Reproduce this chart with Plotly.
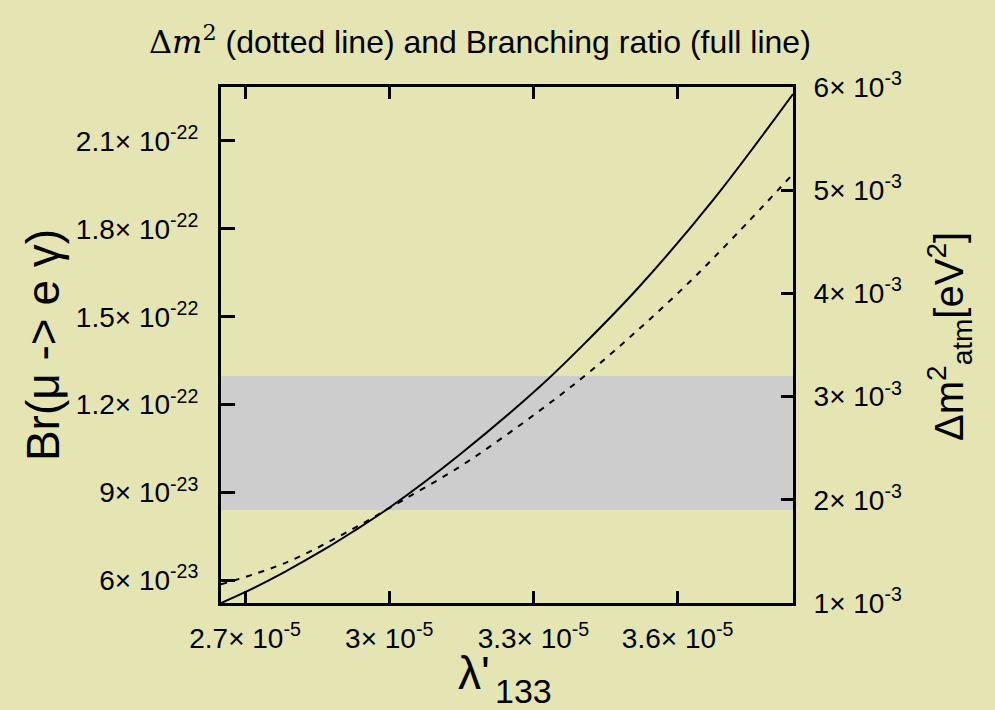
import plotly.graph_objects as go

# lambda'_133 coupling values (x) and the branching ratio Br(mu -> e gamma)
lam_br = [2.65e-5, 2.70e-5, 2.78e-5, 2.863e-5, 2.925e-5, 3.00e-5, 3.147e-5,
          3.313e-5, 3.403e-5, 3.521e-5, 3.674e-5, 3.84e-5]
br = [5.23e-23, 5.60e-23, 6.27e-23, 7.04e-23, 7.67e-23, 8.48e-23, 1.03e-22,
      1.261e-22, 1.403e-22, 1.604e-22, 1.899e-22, 2.26e-22]

# lambda'_133 values and the atmospheric mass splitting Delta m^2
lam_dm = [2.65e-5, 2.7867e-5, 2.925e-5, 3.029e-5, 3.147e-5, 3.2405e-5,
          3.3305e-5, 3.4173e-5, 3.5213e-5, 3.6252e-5, 3.7222e-5, 3.84e-5]
dm2 = [1.18e-3, 1.394e-3, 1.72e-3, 1.998e-3, 2.321e-3, 2.618e-3,
       2.925e-3, 3.241e-3, 3.662e-3, 4.113e-3, 4.573e-3, 5.157e-3]

# allowed Delta m^2_atm band
band_dm2 = [1.9e-3, 3.2e-3]

# tick positions and labels
x_ticks = [2.7e-5, 3.0e-5, 3.3e-5, 3.6e-5]
x_ticktext = ["2.7× 10<sup>-5</sup>", "3× 10<sup>-5</sup>",
              "3.3× 10<sup>-5</sup>", "3.6× 10<sup>-5</sup>"]
y_ticks = [6e-23, 9e-23, 1.2e-22, 1.5e-22, 1.8e-22, 2.1e-22]
y_ticktext = ["6× 10<sup>-23</sup>", "9× 10<sup>-23</sup>",
              "1.2× 10<sup>-22</sup>", "1.5× 10<sup>-22</sup>",
              "1.8× 10<sup>-22</sup>", "2.1× 10<sup>-22</sup>"]
y2_ticks = [1e-3, 2e-3, 3e-3, 4e-3, 5e-3, 6e-3]
y2_ticktext = [f"{k}× 10<sup>-3</sup>" for k in range(1, 7)]

BG = "#e5e5b3"
SANS = "Liberation Sans, Arial, sans-serif"

fig = go.Figure()

fig.add_trace(go.Scatter(
    x=lam_br, y=br, mode="lines", yaxis="y",
    line=dict(color="black", width=2, shape="spline", smoothing=1.0),
    showlegend=False, hoverinfo="skip"))

fig.add_trace(go.Scatter(
    x=lam_dm, y=dm2, mode="lines", yaxis="y2",
    line=dict(color="black", width=2, dash="6px,7px", shape="spline", smoothing=1.0),
    showlegend=False, hoverinfo="skip"))

fig.add_shape(type="rect", xref="paper", x0=0, x1=1, yref="y2",
              y0=band_dm2[0], y1=band_dm2[1],
              fillcolor="#cdcdcd", line=dict(width=0), layer="below")

axis_common = dict(
    showgrid=False, zeroline=False, showline=True, linecolor="black",
    linewidth=3, ticks="inside", tickcolor="black", tickwidth=3,
    tickfont=dict(family=SANS, size=28, color="black"),
)

fig.update_layout(
    width=995, height=710,
    margin=dict(l=221, r=202, t=87, b=107),
    paper_bgcolor=BG, plot_bgcolor=BG,
    xaxis=dict(range=[2.65e-5, 3.84e-5], tickmode="array", tickvals=x_ticks,
               ticktext=x_ticktext, ticklen=12, mirror="ticks",
               ticklabelstandoff=8, **axis_common),
    yaxis=dict(range=[5.23e-23, 2.284e-22], tickmode="array", tickvals=y_ticks,
               ticktext=y_ticktext, ticklen=14, mirror=True,
               ticklabelstandoff=14, **axis_common),
    yaxis2=dict(range=[0.9999e-3, 6.0001e-3], tickmode="array", tickvals=y2_ticks,
                ticktext=y2_ticktext, ticklen=12, overlaying="y", side="right",
                ticklabelstandoff=12, **axis_common),
    annotations=[
        dict(text="<span style='font-family:DejaVu Serif'>Δ<i>m</i><sup>2</sup></span>"
                  " (dotted line) and Branching ratio (full line)",
             xref="paper", yref="paper", x=0.453, y=1.092,
             xanchor="center", yanchor="middle", showarrow=False,
             font=dict(family=SANS, size=32, color="black")),
        dict(text="λ'", xref="paper", yref="paper",
             x=0.4423, y=-0.136, xanchor="center", yanchor="middle",
             showarrow=False, font=dict(family=SANS, size=46, color="black")),
        dict(text="133", xref="paper", yref="paper",
             x=0.5297, y=-0.1705, xanchor="center", yanchor="middle",
             showarrow=False, font=dict(family=SANS, size=34, color="black")),
        dict(text="Br(μ -> e γ)", xref="paper", yref="paper",
             x=-0.311, y=0.5, xanchor="center", yanchor="middle",
             textangle=-90, showarrow=False,
             font=dict(family=SANS, size=46, color="black")),
        dict(text="Δm<sup>2</sup><sub>atm</sub>[eV<sup>2</sup>]",
             xref="paper", yref="paper", x=1.274, y=0.517,
             xanchor="center", yanchor="middle", textangle=-90,
             showarrow=False, font=dict(family=SANS, size=40, color="black")),
    ],
)

fig.write_html("out.html")
